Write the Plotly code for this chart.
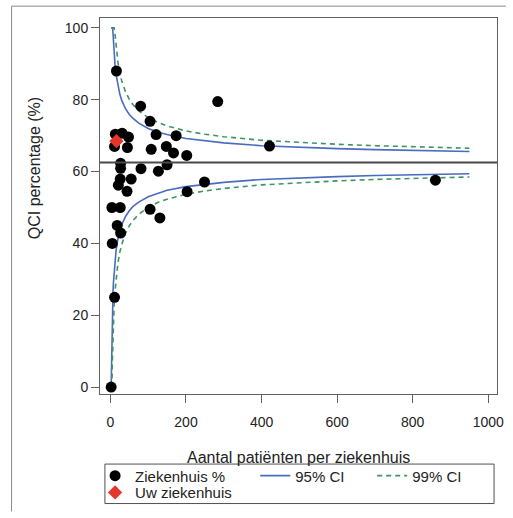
import plotly.graph_objects as go

# ---- data ----
hosp_n = [16, 80, 105, 121, 174, 284, 421, 13, 31, 48, 11, 45, 108, 148, 167, 202,
          27, 27, 81, 127, 150, 26, 55, 21, 44, 4, 26, 105, 131, 203, 249, 860,
          18, 27, 5, 11, 2]
hosp_pct = [88.0, 78.2, 74.0, 70.3, 70.0, 79.5, 67.1, 70.4, 70.7, 69.6, 67.0, 66.7, 66.2, 67.0, 65.2, 64.5,
            62.3, 60.9, 60.8, 60.1, 61.9, 57.9, 57.9, 56.2, 54.5, 50.0, 50.0, 49.5, 47.1, 54.4, 57.1, 57.6,
            45.0, 42.9, 40.0, 25.0, 0.0]
own_n = [16]
own_pct = [68.5]

mean_pct = 62.5

ci_n = [2, 3, 4, 5, 6, 7, 8, 10, 12, 15, 20, 25, 30, 40, 50, 60, 75, 100, 125, 150,
        200, 250, 300, 400, 500, 600, 700, 800, 950]
u95 = [100, 100, 100, 100, 100, 98.4, 96.1, 92.5, 89.9, 87.0, 83.7, 81.5, 79.8, 77.5, 75.9, 74.8,
       73.5, 72.0, 71.0, 70.3, 69.2, 68.5, 68.0, 67.2, 66.7, 66.4, 66.1, 65.9, 65.6]
l95 = [0, 7.7, 15.1, 20.1, 23.8, 26.6, 29.0, 32.5, 35.1, 38.0, 41.3, 43.5, 45.2, 47.5, 49.1, 50.3,
       51.5, 53.0, 54.0, 54.8, 55.8, 56.5, 57.0, 57.8, 58.3, 58.6, 58.9, 59.1, 59.4]
u99 = [100, 100, 100, 100, 100, 100, 100, 100, 98.5, 94.7, 90.4, 87.4, 85.3, 82.2, 80.1, 78.6,
       76.9, 75.0, 73.7, 72.7, 71.3, 70.4, 69.7, 68.7, 68.1, 67.6, 67.2, 66.9, 66.5]
l99 = [0, 0, 0.1, 6.7, 11.6, 15.4, 18.4, 23.1, 26.5, 30.3, 34.6, 37.6, 39.7, 42.8, 44.9, 46.4,
       48.1, 50.0, 51.4, 52.3, 53.7, 54.6, 55.3, 56.3, 56.9, 57.4, 57.8, 58.1, 58.5]

x_ticks = [0, 200, 400, 600, 800, 1000]
y_ticks = [0, 20, 40, 60, 80, 100]

FONT = "Liberation Sans, Arial, sans-serif"
BLUE = "#4a6cc0"
GREEN = "#3f9463"

W, H = 513, 518
L, R, T, B = 100, 9, 18, 119
pw, ph = W - L - R, H - T - B


def px(xp):
    return (xp - L) / pw


def py(yp):
    return (H - B - yp) / ph


fig = go.Figure()

fig.add_trace(go.Scatter(
    x=ci_n + [None] + ci_n, y=u95 + [None] + l95, mode="lines",
    line=dict(color=BLUE, width=1.6), name="95% CI", legend="legend2",
    connectgaps=False, hoverinfo="skip"))
fig.add_trace(go.Scatter(
    x=ci_n + [None] + ci_n, y=u99 + [None] + l99, mode="lines",
    line=dict(color=GREEN, width=1.6, dash="5px,4px"), name="99% CI", legend="legend3",
    connectgaps=False, hoverinfo="skip"))
fig.add_trace(go.Scatter(
    x=hosp_n, y=hosp_pct, mode="markers", name="Ziekenhuis %", legend="legend",
    marker=dict(symbol="circle", size=11, color="black", line=dict(width=0))))
fig.add_trace(go.Scatter(
    x=own_n, y=own_pct, mode="markers", name="Uw ziekenhuis", legend="legend4",
    marker=dict(symbol="diamond", size=11, color="#e5362b", line=dict(width=0))))

# mean line
fig.add_shape(type="line", xref="paper", x0=0, x1=1, yref="y", y0=mean_pct, y1=mean_pct,
              line=dict(color="#4a4a4a", width=2))

# outer frame lines
fig.add_shape(type="line", xref="paper", yref="paper", x0=px(10), x1=px(513), y0=py(6), y1=py(6),
              line=dict(color="#8a8a8a", width=1))
fig.add_shape(type="line", xref="paper", yref="paper", x0=px(10), x1=px(10), y0=py(6), y1=py(518),
              line=dict(color="#8a8a8a", width=1))
# legend box
fig.add_shape(type="rect", xref="paper", yref="paper", x0=px(105), x1=px(501), y0=py(470), y1=py(510),
              line=dict(color="#505050", width=1), fillcolor="rgba(0,0,0,0)")

axis_common = dict(showgrid=False, zeroline=False, showline=True, mirror=True,
                   linecolor="#606060", linewidth=1, ticks="outside", ticklen=8,
                   tickcolor="#606060", tickfont=dict(family=FONT, size=14, color="#222"))

fig.update_xaxes(range=[-27.5, 1023], tickvals=x_ticks, ticklabelstandoff=7, **axis_common)
fig.update_yaxes(range=[-1.92, 102.75], tickvals=y_ticks, **axis_common)

fig.add_annotation(text="QCI percentage (%)", xref="paper", yref="paper",
                   x=px(33), y=py(170), textangle=-90, showarrow=False,
                   font=dict(family=FONT, size=16, color="#222"), xanchor="center", yanchor="middle")
fig.add_annotation(text="Aantal patiënten per ziekenhuis", xref="paper", yref="paper",
                   x=0.5, y=py(463), showarrow=False,
                   font=dict(family=FONT, size=16, color="#222"), xanchor="center", yanchor="middle")

leg_common = dict(orientation="h", bgcolor="rgba(0,0,0,0)", borderwidth=0,
                  font=dict(family=FONT, size=15, color="#222"),
                  xanchor="left", yanchor="middle", xref="paper", yref="paper")
fig.update_layout(
    width=W, height=H, margin=dict(l=L, r=R, t=T, b=B),
    paper_bgcolor="white", plot_bgcolor="white", showlegend=True,
    legend=dict(x=px(95), y=py(482), **leg_common),
    legend2=dict(x=px(258), y=py(482), **leg_common),
    legend3=dict(x=px(377), y=py(482), **leg_common),
    legend4=dict(x=px(95), y=py(499), **leg_common),
)

fig.write_html("out.html")
